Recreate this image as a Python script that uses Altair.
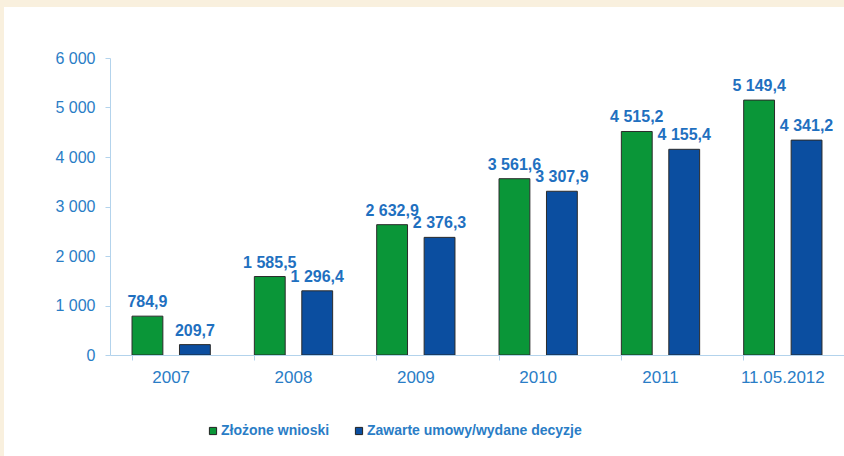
import altair as alt
import pandas as pd

categories = ["2007", "2008", "2009", "2010", "2011", "11.05.2012"]
series = ["Złożone wnioski", "Zawarte umowy/wydane decyzje"]
zlozone = [784.9, 1585.5, 2632.9, 3561.6, 4515.2, 5149.4]
zawarte = [209.7, 1296.4, 2376.3, 3307.9, 4155.4, 4341.2]
y_ticks = [0, 1000, 2000, 3000, 4000, 5000, 6000]

GREEN = "#0A9638"
BLUE = "#0B4EA0"
TXT = "#2A7DC6"
AXC = "#B3D3EC"
FONT = "Liberation Sans"


def fmt(v):
    return f"{v:,.1f}".replace(",", " ").replace(".", ",")


rows = []
for c, a, b in zip(categories, zlozone, zawarte):
    rows.append({"cat": c, "series": series[0], "value": a, "label": fmt(a)})
    rows.append({"cat": c, "series": series[1], "value": b, "label": fmt(b)})
df = pd.DataFrame(rows)

W, H = 734, 297

x_enc = alt.X(
    "cat:N",
    sort=categories,
    scale=alt.Scale(paddingInner=0.36, paddingOuter=0.18),
    axis=alt.Axis(
        title=None,
        labelAngle=0,
        bandPosition=0,
        tickSize=5,
        tickColor=AXC,
        domainColor=AXC,
        labelColor=TXT,
        labelFont=FONT,
        labelFontSize=17,
        labelPadding=9,
        zindex=1,
    ),
)
xo_enc = alt.XOffset("series:N", sort=series, scale=alt.Scale(paddingInner=0.35))
y_enc = alt.Y(
    "value:Q",
    scale=alt.Scale(domain=[0, 6000], nice=False),
    axis=alt.Axis(
        title=None,
        values=y_ticks,
        grid=False,
        labelExpr="replace(format(datum.value, ',d'), ',', ' ')",
        tickSize=5,
        tickColor=AXC,
        domainColor=AXC,
        labelColor=TXT,
        labelFont=FONT,
        labelFontSize=16,
        labelPadding=10,
        zindex=1,
    ),
)

base = alt.Chart(df).encode(x=x_enc, xOffset=xo_enc, y=y_enc)

bars = base.mark_bar(stroke="#2b2b2b", strokeWidth=1).encode(
    color=alt.Color(
        "series:N",
        sort=series,
        scale=alt.Scale(domain=series, range=[GREEN, BLUE]),
        legend=alt.Legend(
            title=None,
            orient="none",
            legendX=96,
            legendY=366,
            direction="horizontal",
            symbolType="square",
            symbolSize=52,
            symbolStrokeColor="#222222",
            symbolStrokeWidth=1,
            labelColor=TXT,
            labelFont=FONT,
            labelFontSize=14,
            labelFontWeight="bold",
            labelOffset=1,
            labelLimit=0,
            columnPadding=22,
            padding=0,
        ),
    )
)

labels = base.mark_text(
    baseline="bottom",
    dy=-6,
    fontWeight="bold",
    fontSize=16,
    font=FONT,
    color="#1F70C0",
).encode(text="label:N")

bg = (
    alt.Chart(alt.Data(values=[{}]))
    .mark_rect(color="white")
    .encode(x=alt.value(-106), x2=alt.value(W + 10), y=alt.value(-51), y2=alt.value(H + 110))
)

chart = (
    alt.layer(bg, bars, labels)
    .properties(
        width=W,
        height=H,
        padding={"left": 110, "top": 58, "right": 0, "bottom": 101},
        autosize=alt.AutoSizeParams(type="none"),
        background="#F9F0DE",
    )
    .configure_view(stroke=None)
)

chart.save("out.html", embed_options={"renderer": "svg", "actions": False})
